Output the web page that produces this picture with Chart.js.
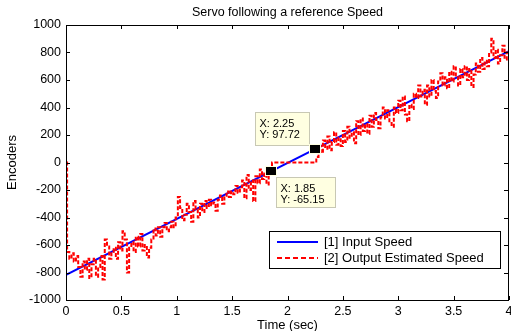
<!DOCTYPE html>
<html>
<head>
<meta charset="utf-8">
<script src="https://cdn.jsdelivr.net/npm/chart.js@4/dist/chart.umd.min.js"></script>
<style>
html,body{margin:0;padding:0;background:#fff;}
canvas{display:block;}
</style>
</head>
<body>
<canvas id="c" width="511" height="331"></canvas>
<script>
// ---- data ----
const chartTitle = "Servo following a reference Speed";
const xTitle = "Time (sec)";
const yTitle = "Encoders";
const xTickValues = [0, 0.5, 1, 1.5, 2, 2.5, 3, 3.5, 4];
const yTickValues = [-1000, -800, -600, -400, -200, 0, 200, 400, 600, 800, 1000];
const seriesNames = ["[1] Input Speed", "[2] Output Estimated Speed"];

const inputTime  = [0, 0, 4];
const inputSpeed = [0, -818, 810];

const outputTime = [
 0, 0.01, 0.03, 0.05, 0.07, 0.09, 0.11, 0.13, 0.15, 0.17, 0.19, 0.21, 0.23, 0.25, 0.27, 0.29, 0.31, 0.33,
 0.35, 0.37, 0.39, 0.41, 0.43, 0.45, 0.47, 0.49, 0.51, 0.53, 0.55, 0.57, 0.59, 0.61, 0.63, 0.65, 0.67, 0.69,
 0.71, 0.73, 0.75, 0.77, 0.79, 0.81, 0.83, 0.85, 0.87, 0.89, 0.91, 0.93, 0.95, 0.97, 0.99, 1.01, 1.03, 1.05,
 1.07, 1.09, 1.11, 1.13, 1.15, 1.17, 1.19, 1.21, 1.23, 1.25, 1.27, 1.29, 1.31, 1.33, 1.35, 1.37, 1.39, 1.41,
 1.43, 1.45, 1.47, 1.49, 1.51, 1.53, 1.55, 1.57, 1.59, 1.61, 1.63, 1.65, 1.67, 1.69, 1.71, 1.73, 1.75, 1.77,
 1.79, 1.81, 1.83, 1.85, 1.86, 2.26, 2.28, 2.30, 2.32, 2.34, 2.36, 2.38, 2.40, 2.42, 2.44, 2.46, 2.48, 2.50,
 2.52, 2.54, 2.56, 2.58, 2.60, 2.62, 2.64, 2.66, 2.68, 2.70, 2.72, 2.74, 2.76, 2.78, 2.80, 2.82, 2.84, 2.86,
 2.88, 2.90, 2.92, 2.94, 2.96, 2.98, 3.00, 3.02, 3.04, 3.06, 3.08, 3.10, 3.12, 3.14, 3.16, 3.18, 3.20, 3.22,
 3.24, 3.26, 3.28, 3.30, 3.32, 3.34, 3.36, 3.38, 3.40, 3.42, 3.44, 3.46, 3.48, 3.50, 3.52, 3.54, 3.56, 3.58,
 3.60, 3.62, 3.64, 3.66, 3.68, 3.70, 3.72, 3.74, 3.76, 3.78, 3.80, 3.82, 3.84, 3.86, 3.88, 3.90, 3.92, 3.94,
 3.96, 3.98, 4.00
];
const outputSpeed = [
 0, -650, -700, -660, -720, -680, -760, -830, -720, -780, -700, -840, -740, -700, -830, -760, -680, -850,
 -560, -610, -700, -650, -620, -700, -580, -640, -500, -560, -800, -620, -580, -650, -540, -610, -520, -640,
 -600, -690, -620, -560, -480, -530, -470, -540, -470, -440, -500, -470, -430, -470, -400, -250, -330, -420,
 -380, -300, -360, -430, -280, -340, -400, -300, -360, -280, -330, -270, -310, -290, -350, -270, -240, -300,
 -250, -210, -250, -210, -230, -170, -220, -180, -130, -260, -90, -200, -130, -280, -100, -150, -50, -120,
 -80, -160, -60, -65, 0, 40, 120, 70, 160, 100, 190, 90, 150, 220, 130, 180, 120, 230,
 150, 260, 180, 220, 140, 300, 200, 320, 230, 280, 210, 340, 260, 360, 310, 250, 330, 400,
 320, 380, 300, 260, 400, 360, 450, 380, 480, 350, 300, 420, 390, 500, 470, 560, 480, 530,
 420, 560, 480, 600, 520, 470, 590, 650, 560, 620, 540, 660, 590, 700, 620, 560, 680, 620,
 700, 600, 680, 550, 640, 720, 660, 760, 680, 740, 700, 800, 900, 760, 820, 720, 780, 850,
 750, 800, 790
];

const tipX = [2.25, 1.85];
const tipY = [97.72, -65.15];
const tipLabelX = ["2.25", "1.85"];
const tipLabelY = ["97.72", "-65.15"];

// ---- build ----
const FONT = "'Liberation Sans', Arial, sans-serif";
const toXY = (xs, ys) => xs.map((x, i) => ({x: x, y: ys[i]}));

const deco = {
  id: 'deco',
  afterDatasetsDraw(chart) {
    const ctx = chart.ctx, a = chart.chartArea;
    const xs = chart.scales.x, ys = chart.scales.y;
    ctx.save();
    // box
    ctx.strokeStyle = '#000'; ctx.lineWidth = 1;
    ctx.strokeRect(Math.round(a.left) + 0.5, Math.round(a.top) + 0.5,
                   Math.round(a.right - a.left) - 1, Math.round(a.bottom - a.top));
    // inner ticks
    ctx.beginPath();
    xTickValues.forEach(v => {
      const px = Math.round(xs.getPixelForValue(v)) + 0.5;
      ctx.moveTo(px, a.bottom); ctx.lineTo(px, a.bottom - 4);
      ctx.moveTo(px, a.top); ctx.lineTo(px, a.top + 4);
    });
    yTickValues.forEach(v => {
      const py = Math.round(ys.getPixelForValue(v)) + 0.5;
      ctx.moveTo(a.left, py); ctx.lineTo(a.left + 4, py);
      ctx.moveTo(a.right - 1, py); ctx.lineTo(a.right - 5, py);
    });
    ctx.stroke();

    // data tips
    const offs = [{dx: -60, dy: -37, w: 54, h: 33}, {dx: 5, dy: 6, w: 59, h: 30}];
    tipX.forEach((tx, i) => {
      const px = xs.getPixelForValue(tx), py = ys.getPixelForValue(tipY[i]);
      const o = offs[i];
      const bx = Math.round(px + o.dx) + 0.5, by = Math.round(py + o.dy) + 0.5;
      ctx.fillStyle = '#ffffe1';
      ctx.fillRect(bx, by, o.w, o.h);
      ctx.strokeStyle = '#c8c8b4';
      ctx.strokeRect(bx, by, o.w, o.h);
      ctx.fillStyle = '#000';
      ctx.font = "11px " + FONT;
      ctx.textAlign = 'left'; ctx.textBaseline = 'middle';
      ctx.fillText("X: " + tipLabelX[i], bx + 4, by + 11);
      ctx.fillText("Y: " + tipLabelY[i], bx + 4, by + 22);
      // marker
      ctx.fillStyle = '#ffffe1';
      ctx.fillRect(Math.round(px) - 6, Math.round(py) - 5, 12, 10);
      ctx.fillStyle = '#000';
      ctx.fillRect(Math.round(px) - 5, Math.round(py) - 4, 10, 8);
    });

    // legend
    const lx = 269.5, ly = 231.5, lw = 231, lh = 37;
    ctx.fillStyle = '#fff';
    ctx.fillRect(lx, ly, lw, lh);
    ctx.strokeStyle = '#000'; ctx.lineWidth = 1;
    ctx.strokeRect(lx, ly, lw, lh);
    ctx.lineWidth = 2;
    ctx.strokeStyle = '#0000ff';
    ctx.beginPath(); ctx.moveTo(277, 242); ctx.lineTo(318, 242); ctx.stroke();
    ctx.strokeStyle = '#ff0000';
    ctx.setLineDash([5, 3]);
    ctx.beginPath(); ctx.moveTo(277, 258); ctx.lineTo(318, 258); ctx.stroke();
    ctx.setLineDash([]);
    ctx.fillStyle = '#000';
    ctx.font = "13px " + FONT;
    ctx.textAlign = 'left'; ctx.textBaseline = 'middle';
    ctx.fillText(seriesNames[0], 324, 242);
    ctx.fillText(seriesNames[1], 324, 258);

    // titles
    const cx = (a.left + a.right) / 2;
    ctx.textAlign = 'center';
    ctx.font = "12.5px " + FONT;
    ctx.fillText(chartTitle, cx, 13);
    ctx.font = "13px " + FONT;
    ctx.fillText(xTitle, cx, 325);
    ctx.save();
    ctx.translate(12, (a.top + a.bottom) / 2);
    ctx.rotate(-Math.PI / 2);
    ctx.fillText(yTitle, 0, 0);
    ctx.restore();
    ctx.restore();
  }
};

new Chart(document.getElementById('c'), {
  type: 'line',
  data: {
    datasets: [
      {
        label: seriesNames[1],
        data: toXY(outputTime, outputSpeed),
        borderColor: '#ff0000',
        borderWidth: 2,
        borderDash: [4, 2],
        stepped: true,
        pointRadius: 0,
        fill: false
      },
      {
        label: seriesNames[0],
        data: toXY(inputTime, inputSpeed),
        borderColor: '#0000ff',
        borderWidth: 2,
        pointRadius: 0,
        tension: 0,
        fill: false
      }
    ]
  },
  options: {
    responsive: false,
    animation: false,
    devicePixelRatio: 1,
    layout: {padding: {top: 25, right: 2, left: 0, bottom: 0}},
    plugins: {legend: {display: false}, title: {display: false}, tooltip: {enabled: false}},
    scales: {
      x: {
        type: 'linear', min: 0, max: 4,
        afterBuildTicks: s => { s.ticks = xTickValues.map(v => ({value: v})); },
        afterFit: s => { s.height = 31; s.paddingLeft = 0; s.paddingRight = 0; },
        grid: {display: false, drawTicks: false},
        border: {display: false},
        ticks: {autoSkip: false, maxRotation: 0, padding: 4, color: '#000',
                font: {family: FONT, size: 12.5},
                callback: v => String(v)}
      },
      y: {
        type: 'linear', min: -1000, max: 1000,
        afterBuildTicks: s => { s.ticks = yTickValues.map(v => ({value: v})); },
        afterFit: s => { s.width = 66; s.paddingTop = 0; s.paddingBottom = 0; },
        grid: {display: false, drawTicks: false},
        border: {display: false},
        ticks: {padding: 5, color: '#000', font: {family: FONT, size: 12.5},
                callback: v => String(v)}
      }
    }
  },
  plugins: [deco]
});
</script>
</body>
</html>
